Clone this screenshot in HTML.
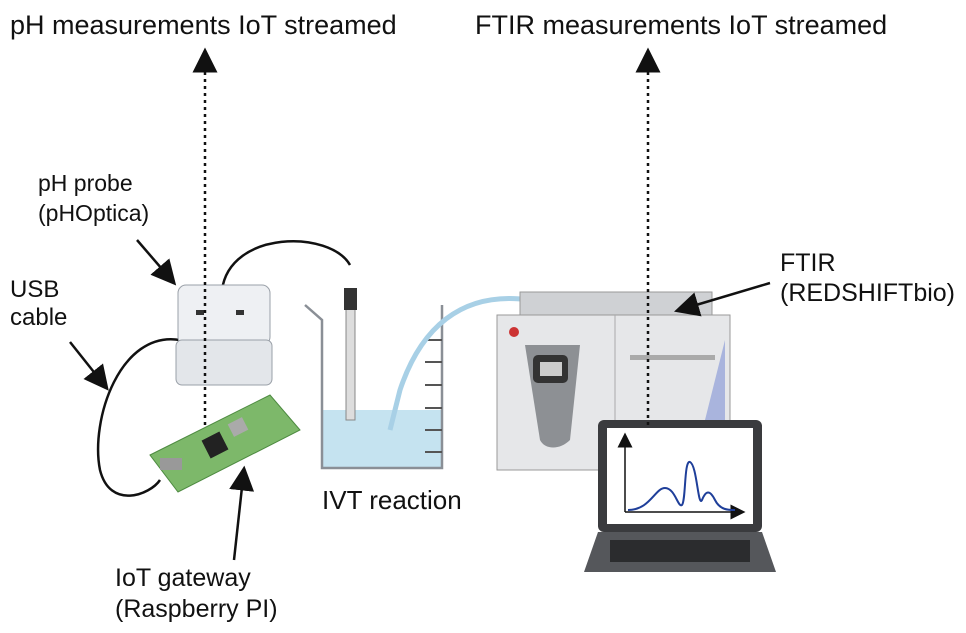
<!DOCTYPE html>
<html><head><meta charset="utf-8"><style>
body{margin:0;background:#fff;}
svg{display:block;font-family:"Liberation Sans",sans-serif;}
</style></head><body>
<svg width="966" height="633" viewBox="0 0 966 633">
<defs>
<marker id="ah" markerWidth="10" markerHeight="10" refX="5" refY="5" orient="auto"><path d="M0,0 L10,5 L0,10 z" fill="#111"/></marker>
</defs>
<g fill="#111">
<text x="10" y="34" font-size="27">pH measurements IoT streamed</text>
<text x="475" y="34" font-size="27">FTIR measurements IoT streamed</text>
</g>
<g fill="#111">
<text x="38" y="191" font-size="23"><tspan x="38">pH probe</tspan><tspan x="38" dy="30">(pHOptica)</tspan></text>
<text x="10" y="297" font-size="24"><tspan x="10">USB</tspan><tspan x="10" dy="28">cable</tspan></text>
<text x="780" y="271" font-size="25"><tspan x="780">FTIR</tspan><tspan x="780" dy="30">(REDSHIFTbio)</tspan></text>
<text x="322" y="509" font-size="26">IVT reaction</text>
<text x="115" y="586" font-size="25"><tspan x="115">IoT gateway</tspan><tspan x="115" dy="31">(Raspberry PI)</tspan></text>
</g>
<path d="M180,340 C120,330 90,420 100,470 C110,510 150,495 160,480" stroke="#111" stroke-width="2.5" fill="none"/>
<path d="M222,290 C230,230 330,230 350,265" stroke="#111" stroke-width="2.5" fill="none"/>
<g>
<rect x="178" y="285" width="92" height="60" rx="8" fill="#eef0f3" stroke="#9aa0a8"/>
<rect x="176" y="340" width="96" height="45" rx="6" fill="#e3e6ea" stroke="#9aa0a8"/>
<rect x="196" y="310" width="8" height="5" fill="#333"/><rect x="236" y="310" width="8" height="5" fill="#333"/>
</g>
<g>
<polygon points="150,455 270,395 300,430 178,492" fill="#7db86a" stroke="#4d8a40"/>
<rect x="205" y="435" width="20" height="20" fill="#222" transform="rotate(-27 215 445)"/>
<rect x="230" y="420" width="16" height="14" fill="#aaa" transform="rotate(-27 238 427)"/>
<rect x="160" y="458" width="22" height="12" fill="#999"/>
</g>
<g>
<rect x="322" y="410" width="120" height="58" fill="#c5e3f0"/>
<path d="M305,305 L322,320 L322,468 L442,468 L442,305" fill="none" stroke="#8a8f96" stroke-width="2.5"/>
<g stroke="#555" stroke-width="2"><line x1="425" y1="340" x2="442" y2="340"/><line x1="425" y1="362" x2="442" y2="362"/><line x1="425" y1="385" x2="442" y2="385"/><line x1="425" y1="408" x2="442" y2="408"/><line x1="425" y1="430" x2="442" y2="430"/><line x1="425" y1="452" x2="442" y2="452"/></g>
<rect x="346" y="290" width="9" height="130" fill="#ddd" stroke="#888"/>
<rect x="344" y="288" width="13" height="22" fill="#333"/>
<path d="M390,430 L400,390 C420,330 460,290 530,300" stroke="#a8d0e6" stroke-width="5" fill="none"/>
</g>
<g>
<rect x="520" y="292" width="192" height="24" fill="#cfd1d4" stroke="#999"/>
<rect x="497" y="315" width="233" height="155" fill="#e6e7e9" stroke="#999"/>
<line x1="615" y1="315" x2="615" y2="470" stroke="#aaa"/>
<polygon points="705,420 725,340 725,420" fill="#a9b4dd"/>
<path d="M525,345 L580,345 L570,440 C560,450 545,450 540,440 Z" fill="#8d9094"/>
<rect x="533" y="355" width="35" height="28" rx="5" fill="#333"/><rect x="540" y="362" width="22" height="14" fill="#ccc"/>
<circle cx="514" cy="332" r="5" fill="#c33"/>
<rect x="630" y="355" width="85" height="5" fill="#aaa"/>
</g>
<g>
<rect x="598" y="420" width="164" height="112" rx="6" fill="#3a3b3e"/>
<rect x="607" y="428" width="146" height="96" fill="#fff"/>
<polygon points="598,532 762,532 776,572 584,572" fill="#55575b"/>
<rect x="610" y="540" width="140" height="22" fill="#2b2c2e"/>
<path d="M625,512 L625,440" stroke="#111" stroke-width="1.5" marker-end="url(#ah)"/>
<path d="M625,512 L738,512" stroke="#111" stroke-width="1.5" marker-end="url(#ah)"/>
<path d="M628,510 C650,510 655,488 665,488 C675,488 678,508 682,505 C686,500 684,460 690,462 C697,465 698,508 702,500 C706,490 710,490 715,500 C720,510 728,510 735,510" stroke="#1f3f9a" stroke-width="2" fill="none"/>
</g>
<g stroke="#111" stroke-width="2.5" fill="none" marker-end="url(#ah)">
<line x1="205" y1="425" x2="205" y2="60" stroke-dasharray="3,4"/>
<line x1="648" y1="425" x2="648" y2="60" stroke-dasharray="3,4"/>
<line x1="137" y1="240" x2="168" y2="276"/>
<line x1="70" y1="342" x2="101" y2="381"/>
<line x1="770" y1="283" x2="686" y2="308"/>
<line x1="234" y1="560" x2="243" y2="478"/>
</g>
</svg>
</body></html>
